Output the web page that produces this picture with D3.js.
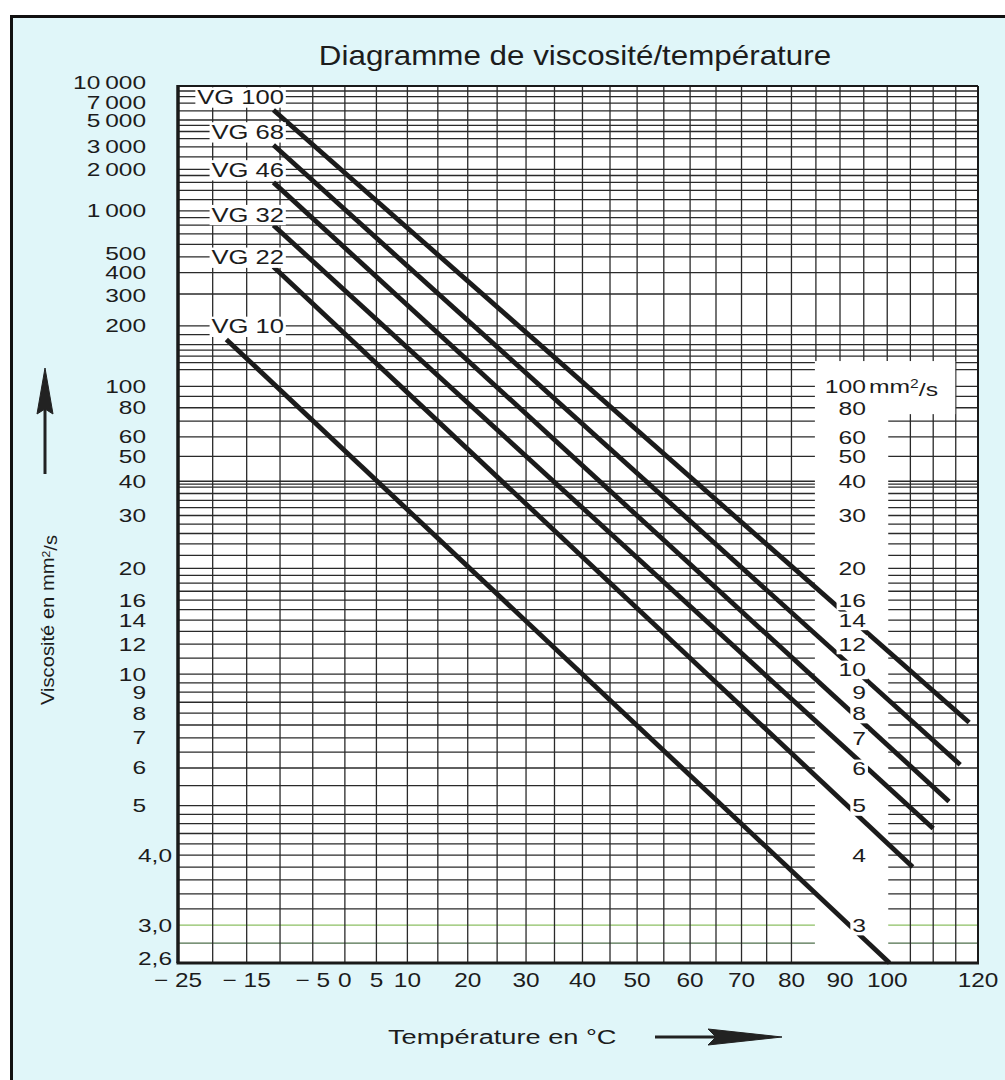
<!DOCTYPE html>
<html>
<head>
<meta charset="utf-8">
<script src="https://cdn.jsdelivr.net/npm/d3@7/dist/d3.min.js"></script>
<style>
  body { margin: 0; background: #fff; }
  svg { display: block; }
  text { font-family: "Liberation Sans", Arial, Helvetica, sans-serif; fill: #1c1c1c; }
</style>
</head>
<body>
<div id="chart"></div>
<script>
// vertical grid every 5 °C, tick labels below
const gridTemps = d3.range(-25, 121, 5);
const tempTicks = [-25, -15, -5, 0, 5, 10, 20, 30, 40, 50, 60, 70, 80, 90, 100, 120];
const tempTickLabels = ["\u2212 25", "\u2212 15", "\u2212 5", "0", "5", "10", "20", "30", "40", "50", "60", "70", "80", "90", "100", "120"];

// horizontal grid (mm²/s)
const gridVisc = [10000, 9000, 8000, 7000, 6000, 5000, 4500, 4000, 3500, 3000, 2500, 2000,
  1800, 1600, 1400, 1200, 1000, 900, 800, 700, 600, 500, 400, 300, 200, 180, 160, 150, 140,
  130, 120, 100, 90, 80, 70, 60, 50, 40, 39, 38, 36, 34, 32, 30, 28, 26, 24, 22, 20, 19, 18,
  17, 16, 15, 14, 13, 12, 11, 10, 9.5, 9, 8.5, 8, 7.5, 7, 6.5, 6, 5.5, 5, 4.8, 4.6, 4.4, 4.2,
  4, 3.8, 3.6, 3.4, 3.2, 3, 2.8, 2.6];

const leftTicks = [10000, 7000, 5000, 3000, 2000, 1000, 500, 400, 300, 200, 100, 80, 60, 50, 40, 30, 20, 16, 14, 12, 10, 9, 8, 7, 6, 5];
const leftTickLabels = ["10\u2009000", "7\u2009000", "5\u2009000", "3\u2009000", "2\u2009000", "1\u2009000", "500", "400", "300", "200", "100", "80", "60", "50", "40", "30", "20", "16", "14", "12", "10", "9", "8", "7", "6", "5"];
const leftDecTicks = [4, 3, 2.6];
const leftDecLabels = ["4,0", "3,0", "2,6"];

const rightTicks = [100, 80, 60, 50, 40, 30, 20, 16, 14, 12, 10, 9, 8, 7, 6, 5, 4, 3];
const rightTickLabels = ["100", "80", "60", "50", "40", "30", "20", "16", "14", "12", "10", "9", "8", "7", "6", "5", "4", "3"];

// ISO VG grades, [°C, mm²/s] read at both ends of each line
const grades = ["VG 100", "VG 68", "VG 46", "VG 32", "VG 22", "VG 10"];
const gradeStart = [[-11, 6100], [-11, 3100], [-11, 1600], [-11, 800], [-11, 435], [-18, 170]];
const gradeEnd = [[118, 7.6], [116, 6.1], [113.5, 5.1], [110, 4.5], [105.5, 3.8], [100.5, 2.6]];
const gradeLabelAt = [8000, 4000, 2000, 950, 500, 200];

// white band for the right hand scale: [t0, t1, v0, v1]
const blanks = [[85, 100, 2.6, 130], [100, 115, 75, 130]];

const W = 1005, H = 1080;

// Ubbelohde-Walther: x ~ log T(K), y ~ log log (v + 0.8)
const walther = v => Math.log10(Math.log10(v + 0.8));
const xK = d3.scaleLog().domain([248.15, 393.15]).range([178, 978]);
const yW = d3.scaleLinear().domain([walther(2.6), walther(10000)]).range([963, 86]);
const x = t => xK(t + 273.15);
const y = v => yW(walther(v));

const svg = d3.select("#chart").append("svg")
  .attr("width", W)
  .attr("height", H);

svg.append("rect").attr("width", W).attr("height", H).attr("fill", "#fff");
svg.append("rect")
  .attr("x", 11.5).attr("y", 16.5)
  .attr("width", W + 10).attr("height", H + 10)
  .attr("fill", "#e0f6f9")
  .attr("stroke", "#111")
  .attr("stroke-width", 3);

const x0 = x(-25), x1 = x(120), yTop = y(10000), yBot = y(2.6);

const plot = svg.append("g");
plot.append("rect")
  .attr("x", x0).attr("y", yTop)
  .attr("width", x1 - x0).attr("height", yBot - yTop)
  .attr("fill", "#fff");

const gridColor = d => d === 3 ? "#8cbf63" : d === 2.8 ? "#4e6f4b" : "#2a2a2a";

plot.selectAll(".hgrid")
  .data(gridVisc)
  .join("line")
  .attr("class", "hgrid")
  .attr("x1", x0).attr("x2", x1)
  .attr("y1", d => y(d)).attr("y2", d => y(d))
  .attr("stroke", gridColor)
  .attr("stroke-width", 1.3);

plot.selectAll(".vgrid")
  .data(gridTemps)
  .join("line")
  .attr("class", "vgrid")
  .attr("x1", d => x(d)).attr("x2", d => x(d))
  .attr("y1", yTop).attr("y2", yBot)
  .attr("stroke", "#2a2a2a")
  .attr("stroke-width", 1.3);

// blank band where the right scale is written
plot.selectAll(".blank")
  .data(blanks)
  .join("rect")
  .attr("class", "blank")
  .attr("x", d => x(d[0]) - 1)
  .attr("y", d => y(d[3]) - 1.5)
  .attr("width", (d, i) => x(d[1]) - x(d[0]) + (i === 0 ? 2 : 0.5))
  .attr("height", d => y(d[2]) - y(d[3]) + 1.5)
  .attr("fill", "#fff");

// plot frame
plot.append("line").attr("x1", x0).attr("x2", x1).attr("y1", yTop).attr("y2", yTop)
  .attr("stroke", "#1a1a1a").attr("stroke-width", 2);
plot.append("line").attr("x1", x1).attr("x2", x1).attr("y1", yTop).attr("y2", yBot)
  .attr("stroke", "#1a1a1a").attr("stroke-width", 2);
plot.append("line").attr("x1", x0 - 1.5).attr("x2", x1 + 1).attr("y1", yBot).attr("y2", yBot)
  .attr("stroke", "#1a1a1a").attr("stroke-width", 3);
plot.append("line").attr("x1", x0).attr("x2", x0).attr("y1", yTop - 1).attr("y2", yBot)
  .attr("stroke", "#1a1a1a").attr("stroke-width", 3.5);

// grade lines
const line = d3.line().x(d => x(d[0])).y(d => y(d[1]));
plot.selectAll(".grade")
  .data(grades)
  .join("path")
  .attr("class", "grade")
  .attr("d", (d, i) => line([gradeStart[i], gradeEnd[i]]))
  .attr("fill", "none")
  .attr("stroke", "#1b1b1b")
  .attr("stroke-width", 4.8);

// stretched text with optional white backing
function label(g, px, py, str, size, sx, anchor, backed) {
  const t = g.append("g").attr("transform", `translate(${px},${py}) scale(${sx},1)`);
  const txt = t.append("text")
    .attr("text-anchor", anchor)
    .attr("dy", "0.36em")
    .style("font-size", size + "px")
    .text(str);
  if (backed) {
    const b = txt.node().getBBox();
    t.insert("rect", "text")
      .attr("x", b.x - 1.5).attr("y", b.y + 2)
      .attr("width", b.width + 3).attr("height", b.height - 3)
      .attr("fill", "#fff");
  }
  return t;
}

const labels = svg.append("g");

grades.forEach((g, i) => label(labels, x(-9.4), y(gradeLabelAt[i]), g, 21, 1.22, "end", true));

// a few crowded labels sit slightly off their line, as in the print
const rightShift = { 10: -5 };
rightTicks.forEach((v, i) => label(labels, 866, y(v) + (rightShift[v] || 0), rightTickLabels[i], 19, 1.3, "end", true));
// unit beside the 100
const unit = labels.append("g").attr("transform", `translate(869,${y(100)}) scale(1.3,1)`);
const unitText = unit.append("text").attr("dy", "0.36em").style("font-size", "19px");
unitText.append("tspan").text("mm");
unitText.append("tspan").attr("dy", "-0.4em").style("font-size", "12px").text("2");
unitText.append("tspan").attr("dy", "0.4em").text("/s");

const leftShift = { 10000: -3, 7000: -1, 5000: 1, 500: -3, 300: 1, 2.6: -4 };
leftTicks.forEach((v, i) => label(labels, 146, y(v) + (leftShift[v] || 0), leftTickLabels[i], 18, 1.36, "end", false));
leftDecTicks.forEach((v, i) => label(labels, 172, y(v) + (leftShift[v] || 0), leftDecLabels[i], 18, 1.36, "end", false));

tempTicks.forEach((t, i) => label(labels, x(t), 980, tempTickLabels[i], 20, 1.22, "middle", false));

// titles
label(labels, 575, 55, "Diagramme de viscosit\u00e9/temp\u00e9rature", 28, 1.12, "middle", false);

const yt = labels.append("g").attr("transform", "translate(48,620) rotate(-90) scale(1.12,1)");
const ytText = yt.append("text").attr("text-anchor", "middle").attr("dy", "0.36em").style("font-size", "18px");
ytText.append("tspan").text("Viscosit\u00e9 en mm");
ytText.append("tspan").attr("dy", "-0.4em").style("font-size", "11px").text("2");
ytText.append("tspan").attr("dy", "0.4em").text("/s");

label(labels, 388, 1037, "Temp\u00e9rature en \u00b0C", 20, 1.36, "start", false);

// arrows
const arrows = svg.append("g").attr("fill", "#222").attr("stroke", "#222");
arrows.append("line").attr("x1", 45).attr("x2", 45).attr("y1", 474).attr("y2", 405).attr("stroke-width", 3);
arrows.append("path").attr("d", "M45,368 L53,414 L45,409 L37,414 Z").attr("stroke-width", 1);
arrows.append("line").attr("x1", 655).attr("x2", 720).attr("y1", 1037).attr("y2", 1037).attr("stroke-width", 3);
arrows.append("path").attr("d", "M782,1037 L708,1029 L716,1037 L708,1045 Z").attr("stroke-width", 1);
</script>
</body>
</html>
